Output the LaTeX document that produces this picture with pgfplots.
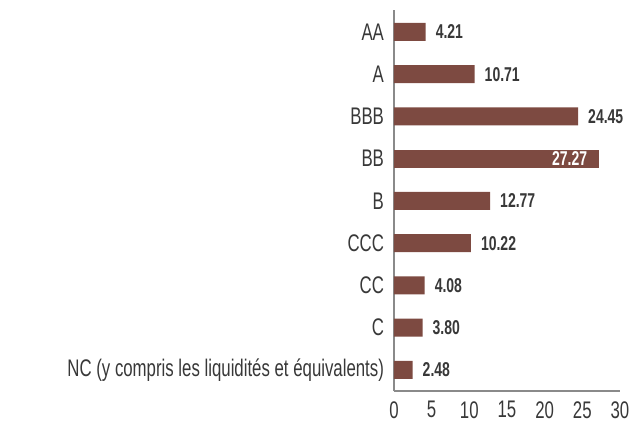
\documentclass[border=0pt]{standalone}
\usepackage{fontspec}
\setmainfont{Liberation Sans}[FakeStretch=0.7]
\usepackage{pgfplots}
\pgfplotsset{compat=1.18}
\definecolor{barc}{HTML}{7D4A41}
\definecolor{txt}{HTML}{383838}
\definecolor{axc}{HTML}{8A8A8A}
\begin{document}
\begin{tikzpicture}
\path[use as bounding box] (-295.5pt,-29.25pt) rectangle (183pt,293.25pt);
\begin{axis}[at={(0,0)}, anchor=south west, scale only axis,
 width=169.5pt, height=285.75pt,
 xmin=0, xmax=30, ymin=-0.5, ymax=8.52,
 axis lines=left, axis line style={-, draw=axc, line width=0.8pt},
 xtick={0,5,...,30}, ytick={0,...,8},
 yticklabels={NC (y compris les liquidités et équivalents),C,CC,CCC,B,BB,BBB,A,AA},
 major tick length=0pt,
 tick label style={font=\fontsize{18}{21}\selectfont, text=txt},
 yticklabel style={xshift=-4pt},
 xticklabel style={yshift=-4.2pt},
 /pgf/number format/assume math mode=true,
 xbar, bar width=13.5pt, bar shift=0pt, clip=false,
 nodes near coords={\pgfmathprintnumber[fixed,fixed zerofill,precision=2]{\pgfplotspointmeta}},
 point meta=x,
 every node near coord/.append style={font=\bfseries\fontsize{15}{18}\selectfont, text=txt},
]
\addplot[fill=barc, draw=none, every node near coord/.append style={xshift=4pt}] coordinates {
(4.21,8) (10.71,7) (24.45,6) (12.77,4) (10.22,3) (4.08,2) (3.80,1) (2.48,0)};
\addplot[fill=barc, draw=none, every node near coord/.append style={anchor=east, text=white, xshift=-5.7pt}] coordinates {
(27.27,5)};
\end{axis}
\end{tikzpicture}
\end{document}
